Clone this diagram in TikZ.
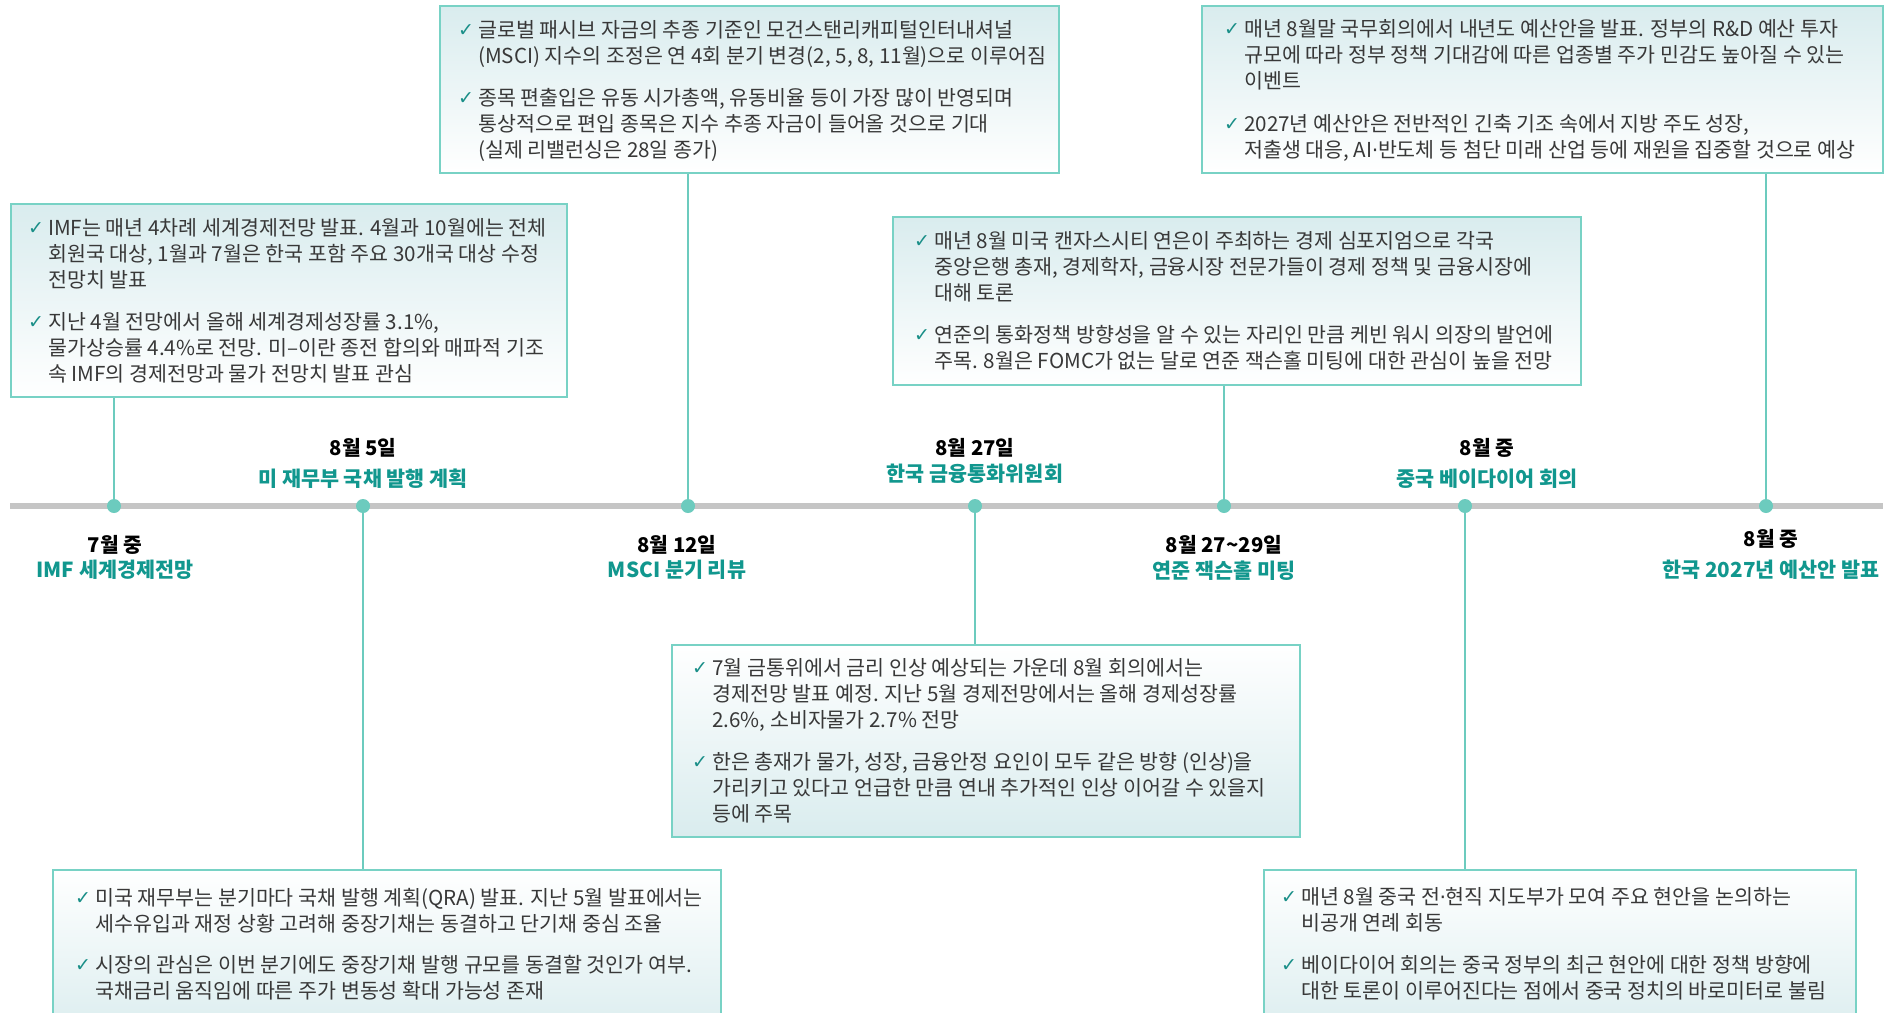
\documentclass[tikz,border=0pt]{standalone}
\usepackage{fontspec}
\setmainfont{Noto Sans CJK KR}
\newfontfamily\chkfont{DejaVu Sans}
\usetikzlibrary{calc}
\definecolor{teal1}{HTML}{11978E}
\definecolor{chkcol}{HTML}{1A8F88}
\definecolor{conncol}{HTML}{6CCBBE}
\definecolor{boxline}{HTML}{78D2C5}
\definecolor{boxtint}{HTML}{D9ECEE}
\definecolor{tlcol}{HTML}{C5C5C5}
\definecolor{txt}{HTML}{383838}
\newcommand{\chk}{\makebox[20pt][l]{\raisebox{1pt}{\chkfont\fontsize{19}{19}\selectfont\textcolor{chkcol}{✓}}}}
\newcommand{\mdot}{{\chkfont\kern-0.5pt·\kern-0.5pt}}
\tikzset{
  infobox/.style={draw=boxline, line width=2pt, rectangle, inner sep=0pt, anchor=north west},
  upbox/.style={infobox, top color=boxtint, bottom color=white},
  downbox/.style={infobox, top color=white, bottom color=boxtint},
  body/.style={anchor=base west, inner sep=0pt, text=txt, font=\fontsize{20.6}{26}\selectfont},
  datelbl/.style={anchor=base, inner sep=0pt, font=\bfseries\fontsize{20.3}{20}\selectfont, text=black},
  titlelbl/.style={anchor=base, inner sep=0pt, font=\bfseries\fontsize{20.7}{20}\selectfont, text=teal1},
  evdot/.style={circle, fill=conncol, inner sep=0pt, minimum size=14pt},
  connline/.style={draw=conncol, line width=2.5pt},
  tline/.style={draw=tlcol, line width=6pt},
}
\begin{document}
\begin{tikzpicture}[x=1pt, y=-1pt]
\clip (0,0) rectangle (1895,1012);
\fill[white] (0,0) rectangle (1895,1012);
% timeline
\coordinate (tlL) at (10,506);
\coordinate (tlR) at (1883,506);
\draw[tline] (tlL) -- (tlR);
% boxes
\node[upbox, minimum width=556pt, minimum height=193pt] (imfbox) at (10,203) {};
\node[upbox, minimum width=619pt, minimum height=167pt] (mscibox) at (439,5) {};
\node[upbox, minimum width=681pt, minimum height=167pt] (budbox) at (1201,5) {};
\node[upbox, minimum width=688pt, minimum height=168pt] (jhbox) at (892,216) {};
\node[downbox, minimum width=628pt, minimum height=192pt] (bokbox) at (671,644) {};
\node[downbox, minimum width=668pt, minimum height=175pt] (qrabox) at (52,869) {};
\node[downbox, minimum width=592pt, minimum height=175pt] (bdhbox) at (1263,869) {};
% dots
\node[evdot] (d1) at (114,506) {};
\node[evdot] (d2) at (363,506) {};
\node[evdot] (d3) at (688,506) {};
\node[evdot] (d4) at (975,506) {};
\node[evdot] (d5) at (1224,506) {};
\node[evdot] (d6) at (1465,506) {};
\node[evdot] (d7) at (1766,506) {};
% connectors
\draw[connline] (d1.north) -- (d1 |- imfbox.south);
\draw[connline] (d3.north) -- (d3 |- mscibox.south);
\draw[connline] (d7.north) -- (d7 |- budbox.south);
\draw[connline] (d5.north) -- (d5 |- jhbox.south);
\draw[connline] (d4.south) -- (d4 |- bokbox.north);
\draw[connline] (d2.south) -- (d2 |- qrabox.north);
\draw[connline] (d6.south) -- (d6 |- bdhbox.north);
% labels
\node[datelbl] (l1d) at (115,552) {7월 중};
\node[titlelbl] (l1t) at (115,577) {IMF 세계경제전망};
\node[datelbl] (l2d) at (363,455) {8월 5일};
\node[titlelbl] (l2t) at (363,486) {미 재무부 국채 발행 계획};
\node[datelbl] (l3d) at (677,552) {8월 12일};
\node[titlelbl] (l3t) at (677,577) {MSCI 분기 리뷰};
\node[datelbl] (l4d) at (975,455) {8월 27일};
\node[titlelbl] (l4t) at (975,481) {한국 금융통화위원회};
\node[datelbl] (l5d) at (1224,552) {8월 27\textasciitilde29일};
\node[titlelbl] (l5t) at (1224,578) {연준 잭슨홀 미팅};
\node[datelbl] (l6d) at (1487,455) {8월 중};
\node[titlelbl] (l6t) at (1487,486) {중국 베이다이어 회의};
\node[datelbl] (l7d) at (1771,546) {8월 중};
\node[titlelbl] (l7t) at (1771,577) {한국 2027년 예산안 발표};
% texts
\node[body] (imftxt) at (28,235) {\begin{tabular}[t]{@{}l@{}l@{}}
\chk & IMF는 매년 4차례 세계경제전망 발표. 4월과 10월에는 전체\\
 & 회원국 대상, 1월과 7월은 한국 포함 주요 30개국 대상 수정\\
 & 전망치 발표\\[16pt]
\chk & 지난 4월 전망에서 올해 세계경제성장률 3.1\%,\\
 & 물가상승률 4.4\%로 전망. 미–이란 종전 합의와 매파적 기조\\
 & 속 IMF의 경제전망과 물가 전망치 발표 관심
\end{tabular}};
\node[body] (mscitxt) at (458,37) {\begin{tabular}[t]{@{}l@{}l@{}}
\chk & 글로벌 패시브 자금의 추종 기준인 모건스탠리캐피털인터내셔널\\
 & (MSCI) 지수의 조정은 연 4회 분기 변경(2, 5, 8, 11월)으로 이루어짐\\[16pt]
\chk & 종목 편출입은 유동 시가총액, 유동비율 등이 가장 많이 반영되며\\
 & 통상적으로 편입 종목은 지수 추종 자금이 들어올 것으로 기대\\
 & (실제 리밸런싱은 28일 종가)
\end{tabular}};
\node[body] (budtxt) at (1224,36) {\begin{tabular}[t]{@{}l@{}l@{}}
\chk & 매년 8월말 국무회의에서 내년도 예산안을 발표. 정부의 R\&D 예산 투자\\
 & 규모에 따라 정부 정책 기대감에 따른 업종별 주가 민감도 높아질 수 있는\\
 & 이벤트\\[17pt]
\chk & 2027년 예산안은 전반적인 긴축 기조 속에서 지방 주도 성장,\\
 & 저출생 대응, AI\mdot 반도체 등 첨단 미래 산업 등에 재원을 집중할 것으로 예상
\end{tabular}};
\node[body] (jhtxt) at (914,248) {\begin{tabular}[t]{@{}l@{}l@{}}
\chk & 매년 8월 미국 캔자스시티 연은이 주최하는 경제 심포지엄으로 각국\\
 & 중앙은행 총재, 경제학자, 금융시장 전문가들이 경제 정책 및 금융시장에\\
 & 대해 토론\\[16pt]
\chk & 연준의 통화정책 방향성을 알 수 있는 자리인 만큼 케빈 워시 의장의 발언에\\
 & 주목. 8월은 FOMC가 없는 달로 연준 잭슨홀 미팅에 대한 관심이 높을 전망
\end{tabular}};
\node[body] (boktxt) at (692,675) {\begin{tabular}[t]{@{}l@{}l@{}}
\chk & 7월 금통위에서 금리 인상 예상되는 가운데 8월 회의에서는\\
 & 경제전망 발표 예정. 지난 5월 경제전망에서는 올해 경제성장률\\
 & 2.6\%, 소비자물가 2.7\% 전망\\[16pt]
\chk & 한은 총재가 물가, 성장, 금융안정 요인이 모두 같은 방향 (인상)을\\
 & 가리키고 있다고 언급한 만큼 연내 추가적인 인상 이어갈 수 있을지\\
 & 등에 주목
\end{tabular}};
\node[body] (qratxt) at (75,905) {\begin{tabular}[t]{@{}l@{}l@{}}
\chk & 미국 재무부는 분기마다 국채 발행 계획(QRA) 발표. 지난 5월 발표에서는\\
 & 세수유입과 재정 상황 고려해 중장기채는 동결하고 단기채 중심 조율\\[15pt]
\chk & 시장의 관심은 이번 분기에도 중장기채 발행 규모를 동결할 것인가 여부.\\
 & 국채금리 움직임에 따른 주가 변동성 확대 가능성 존재
\end{tabular}};
\node[body] (bdhtxt) at (1281,904) {\begin{tabular}[t]{@{}l@{}l@{}}
\chk & 매년 8월 중국 전\mdot 현직 지도부가 모여 주요 현안을 논의하는\\
 & 비공개 연례 회동\\[16pt]
\chk & 베이다이어 회의는 중국 정부의 최근 현안에 대한 정책 방향에\\
 & 대한 토론이 이루어진다는 점에서 중국 정치의 바로미터로 불림
\end{tabular}};
\end{tikzpicture}
\end{document}
